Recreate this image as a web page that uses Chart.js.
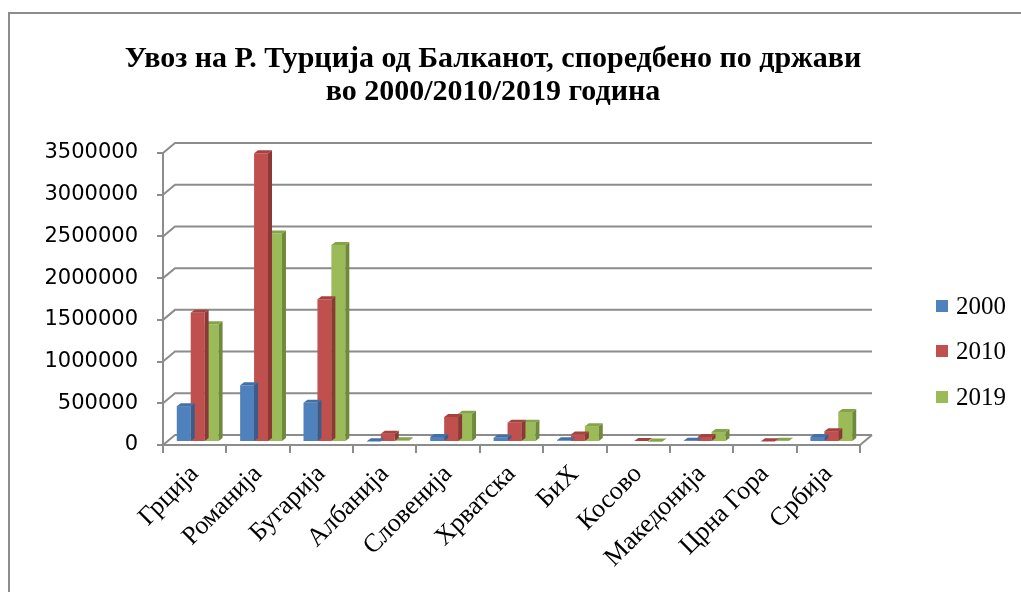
<!DOCTYPE html>
<html>
<head>
<meta charset="utf-8">
<script src="https://cdn.jsdelivr.net/npm/chart.js@4"></script>
<style>
    html, body { margin: 0; padding: 0; background: #fff; }
    #page { position: relative; width: 1021px; height: 592px; overflow: hidden; background: #fff; }
    #frame { position: absolute; left: 8px; top: 12px; width: 1100px; height: 700px; border-left: 2px solid #8c8c8c; border-top: 2px solid #8c8c8c; }
    #chart { position: absolute; left: 10px; top: 14px; }
    #title { position: absolute; left: 93px; width: 800px; top: 40px; text-align: center; font-family: 'Liberation Serif', serif; font-weight: bold; font-size: 30px; line-height: 33px; color: #000; }
    #legend { position: absolute; left: 936px; top: 283px; font-family: 'Liberation Serif', serif; font-size: 25px; color: #000; }
    .item { height: 45.5px; display: flex; align-items: center; }
    .swatch { width: 12px; height: 12px; margin-right: 8px; }
</style>
</head>
<body>
<div id="page">
    <div id="frame"></div>
    <canvas id="chart" width="1011" height="578"></canvas>
    <div id="title"></div>
    <div id="legend"></div>
</div>
<script>
// Data
const categories = ['Грција', 'Романија', 'Бугарија', 'Албанија', 'Словенија', 'Хрватска', 'БиХ', 'Косово', 'Македонија', 'Црна Гора', 'Србија'];
const years = ['2000', '2010', '2019'];
const imports2000 = [430000, 680000, 470000, 8000, 60000, 50000, 20000, 0, 15000, 0, 60000];
const imports2010 = [1550000, 3460000, 1710000, 100000, 300000, 230000, 90000, 12000, 60000, 8000, 130000];
const imports2019 = [1410000, 2500000, 2360000, 20000, 340000, 230000, 190000, 6000, 120000, 15000, 360000];
const yMax = 3500000;
const yStep = 500000;

const titleLines = ['Увоз на Р. Турција од Балканот, споредбено по држави', 'во 2000/2010/2019 година'];

// front / side / top colours per series
const colors = [
    { front: '#4F81BD', side: '#385D8A', top: '#4470A8' },
    { front: '#C0504D', side: '#8C3836', top: '#A5423F' },
    { front: '#9BBB59', side: '#6E8A3A', top: '#85A34A' }
];

const WALL_DX = 12, WALL_DY = -10;   // back wall offset
const BAR_DX = 4, BAR_DY = -3;       // bar depth
const SHIFT_X = 3, SHIFT_Y = -3;     // bars sit mid-depth
const AXIS_GREY = '#8c8c8c';

const depthPlugin = {
    id: 'depth',
    beforeDatasetsDraw(chart) {
        const ctx = chart.ctx;
        const area = chart.chartArea;
        const y = chart.scales.y;
        ctx.save();
        ctx.strokeStyle = AXIS_GREY;
        ctx.lineWidth = 2;
        y.ticks.forEach(t => {
            const py = y.getPixelForValue(t.value);
            ctx.beginPath();
            ctx.moveTo(area.left, py);
            ctx.lineTo(area.left + WALL_DX, py + WALL_DY);
            ctx.lineTo(area.right + WALL_DX, py + WALL_DY);
            ctx.stroke();
        });
        // right edge of the floor
        ctx.beginPath();
        ctx.moveTo(area.right, area.bottom);
        ctx.lineTo(area.right + WALL_DX, area.bottom + WALL_DY);
        ctx.stroke();
        ctx.restore();

        ctx.save();
        ctx.translate(SHIFT_X, SHIFT_Y);
    },
    afterDatasetDraw(chart, args) {
        const ctx = chart.ctx;
        const c = colors[args.index];
        const values = chart.data.datasets[args.index].data;
        args.meta.data.forEach((bar, i) => {
            if (!values[i]) return;
            const p = bar.getProps(['x', 'y', 'base', 'width'], true);
            const l = p.x - p.width / 2, r = p.x + p.width / 2;
            ctx.fillStyle = c.side;
            ctx.beginPath();
            ctx.moveTo(r, p.y);
            ctx.lineTo(r + BAR_DX, p.y + BAR_DY);
            ctx.lineTo(r + BAR_DX, p.base + BAR_DY);
            ctx.lineTo(r, p.base);
            ctx.closePath();
            ctx.fill();
            ctx.fillStyle = c.top;
            ctx.beginPath();
            ctx.moveTo(l, p.y);
            ctx.lineTo(l + BAR_DX, p.y + BAR_DY);
            ctx.lineTo(r + BAR_DX, p.y + BAR_DY);
            ctx.lineTo(r, p.y);
            ctx.closePath();
            ctx.fill();
        });
    },
    afterDatasetsDraw(chart) {
        chart.ctx.restore();
    }
};

const series = [imports2000, imports2010, imports2019];

const chart = new Chart(document.getElementById('chart'), {
    type: 'bar',
    data: {
        labels: categories,
        datasets: series.map((data, i) => ({
            label: years[i],
            data: data,
            backgroundColor: colors[i].front,
            borderWidth: 0,
            categoryPercentage: 0.66,
            barPercentage: 1.0
        }))
    },
    options: {
        responsive: false,
        animation: false,
        layout: { padding: { left: 20, right: 161, top: 139, bottom: 0 } },
        plugins: {
            legend: { display: false },
            tooltip: { enabled: false },
            title: { display: false }
        },
        scales: {
            x: {
                offset: true,
                grid: { offset: true, drawOnChartArea: false, drawTicks: true, tickLength: 8, color: AXIS_GREY, lineWidth: 2 },
                border: { color: AXIS_GREY, width: 2 },
                ticks: {
                    color: '#000',
                    font: { family: 'Liberation Serif', size: 26 },
                    minRotation: 45,
                    maxRotation: 45,
                    autoSkip: false,
                    padding: 6
                },
                afterFit(scale) { scale.height = 147; }
            },
            y: {
                min: 0,
                max: yMax,
                grid: { drawOnChartArea: false, drawTicks: true, tickLength: 6, color: AXIS_GREY, lineWidth: 2 },
                border: { color: AXIS_GREY, width: 2 },
                ticks: {
                    stepSize: yStep,
                    color: '#000',
                    font: { family: 'DejaVu Sans', size: 21 },
                    padding: 19,
                    callback: v => String(v)
                },
                afterFit(scale) { scale.width = 133; }
            }
        }
    },
    plugins: [depthPlugin]
});

document.getElementById('title').innerHTML = titleLines.join('<br>');

// legend built from the same series
const legend = document.getElementById('legend');
years.forEach((y, i) => {
    const row = document.createElement('div');
    row.className = 'item';
    const sw = document.createElement('span');
    sw.className = 'swatch';
    sw.style.background = colors[i].front;
    const txt = document.createElement('span');
    txt.textContent = y;
    row.appendChild(sw);
    row.appendChild(txt);
    legend.appendChild(row);
});
</script>
</body>
</html>
